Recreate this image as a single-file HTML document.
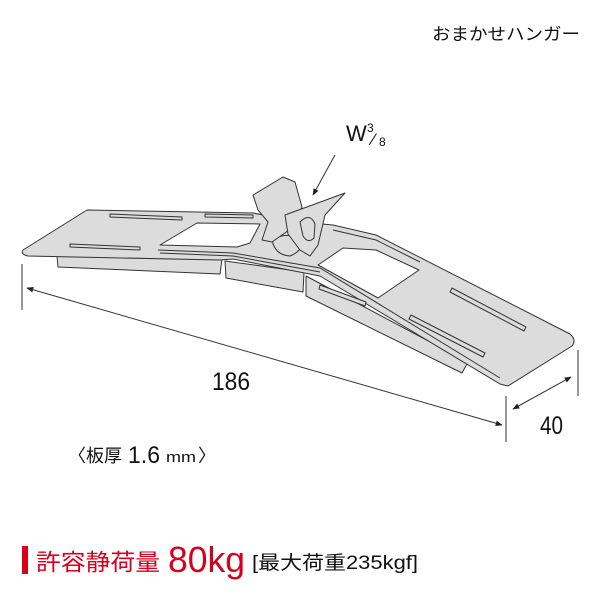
<!DOCTYPE html>
<html><head><meta charset="utf-8"><style>
body{margin:0;background:#fff}
svg{display:block}
text{font-family:"Liberation Sans","Noto Sans CJK JP",sans-serif}
</style></head><body>
<svg width="600" height="600" viewBox="0 0 600 600" xmlns="http://www.w3.org/2000/svg">
<defs><marker id="a" viewBox="0 0 10 10" refX="9" refY="5" markerWidth="7" markerHeight="7" orient="auto-start-reverse"><path d="M0,1 L10,5 L0,9 z" fill="#222"/></marker></defs>
<text x="432" y="40" font-size="17" fill="#111" textLength="148" lengthAdjust="spacingAndGlyphs">おまかせハンガー</text>
<g stroke="#333" stroke-width="1" fill="#dcdcdc" stroke-linejoin="round">
<path d="M57,256 L58,267 L220,274 L222,259 Z"/>
<path d="M225,261 L226,278 L303,292 L304,272 Z"/>
<path d="M306,276 L306,296 L462,373 L468,362 Z"/>
<path d="M23,250 L87,210 L253,213 L300,222 L333,225 L376,235 L570,334 Q577,340 572,346 L508,386 L500,384 L320,276 L233,259 L220,260 L28,256 Q20,254 23,250 Z"/>
<path d="M158,250 L233,253 L320,268 L500,378" fill="none"/>
<path d="M160,253 L233,256 L320,272" fill="none"/>
<path d="M333,230 L376,240 L420,262" fill="none"/>
<path d="M160,245 L197,223 L260,224 L250,243 L237,247 Z" fill="#fff"/>
<path d="M318,265 L343,248 L376,250 L419,270 L378,298 Z" fill="#fff"/>
<path d="M70,244 L140,247 L140,250 L70,247 Z"/>
<path d="M110,214 L182,217 L182,220 L110,217 Z"/>
<path d="M205,214 L253,215 L253,218 L205,217 Z"/>
<path d="M452,288 L526,327 L524,331 L450,292 Z"/>
<path d="M411,315 L485,353 L483,357 L409,319 Z"/>
<path d="M320,285 L366,302 L365,306 L319,289 Z"/>
<path d="M272,240 Q285,232 300,238 Q305,250 290,256 Q275,255 272,240 Z"/>
<path d="M253,195 L283,177 L295,182 L302,207 L292,228 L272,242 L262,240 L268,222 L258,210 Z"/>
<path d="M285,215 L345,193 L325,215 L318,245 L310,256 L300,250 L288,234 Z"/>
<path d="M300,222 Q310,212 315,224 L314,238 Q308,244 303,236 Z"/>
</g>
<g stroke="#333" stroke-width="1">
<line x1="22" y1="264" x2="22" y2="310"/>
<line x1="578" y1="350" x2="578" y2="396"/>
<line x1="506" y1="396" x2="506" y2="442"/>
<line x1="27" y1="288" x2="502" y2="425" marker-start="url(#a)" marker-end="url(#a)"/>
<line x1="513" y1="409" x2="571" y2="377" marker-start="url(#a)" marker-end="url(#a)"/>
<line x1="335" y1="155" x2="313" y2="195" marker-end="url(#a)"/>
</g>
<text x="212" y="390" font-size="25" fill="#111" textLength="38" lengthAdjust="spacingAndGlyphs">186</text>
<text x="540" y="434" font-size="25" fill="#111" textLength="23" lengthAdjust="spacingAndGlyphs">40</text>
<text x="346" y="141" font-size="22" fill="#111">W</text>
<text x="367" y="132" font-size="12" fill="#111">3</text>
<text x="372" y="145" font-size="17" fill="#111">⁄</text>
<text x="379" y="146" font-size="12" fill="#111">8</text>
<text x="68" y="462" font-size="18" fill="#111">〈板厚</text>
<text x="128" y="463" font-size="24" fill="#111" textLength="32" lengthAdjust="spacingAndGlyphs">1.6</text>
<text x="166" y="462" font-size="15" fill="#111" textLength="30" lengthAdjust="spacingAndGlyphs">mm</text>
<text x="198" y="462" font-size="18" fill="#111">〉</text>
<rect x="22" y="546" width="6" height="28" fill="#d6001c"/>
<text x="36" y="570" font-size="23" fill="#d6001c" textLength="124" lengthAdjust="spacingAndGlyphs">許容静荷量</text>
<text x="168" y="572" font-size="36" fill="#d6001c" textLength="77" lengthAdjust="spacingAndGlyphs">80kg</text>
<text x="252" y="569" font-size="19" fill="#111" textLength="166" lengthAdjust="spacingAndGlyphs">[最大荷重235kgf]</text>
</svg>
</body></html>
